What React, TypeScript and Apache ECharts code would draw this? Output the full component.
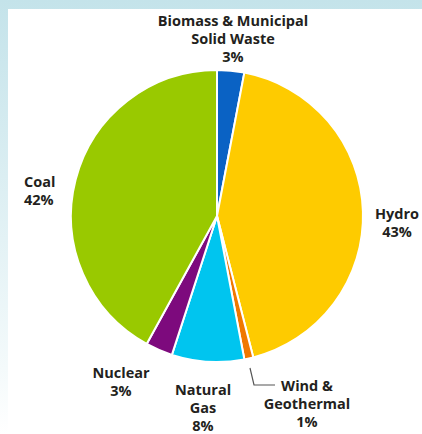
import React, { useEffect, useRef } from "react";
import * as echarts from "echarts";

const categories = [
  "Biomass & Municipal\nSolid Waste",
  "Hydro",
  "Wind &\nGeothermal",
  "Natural\nGas",
  "Nuclear",
  "Coal",
];
const shares = [3, 43, 1, 8, 3, 42];
const colors = ["#0a62c4", "#fecb00", "#f07800", "#00c5ef", "#7d0a7d", "#99c900"];

// label anchor points (page coordinates)
const labelSpots: { x: number; y: number; align: string }[] = [
  { x: 233, y: 38, align: "center" },
  { x: 397, y: 222, align: "center" },
  { x: 307, y: 403, align: "center" },
  { x: 203, y: 407, align: "center" },
  { x: 121, y: 381, align: "center" },
  { x: 24, y: 190, align: "left" },
];

export default function App() {
  const ref = useRef<HTMLDivElement>(null);
  useEffect(() => {
    const chart = echarts.init(ref.current!, null, { renderer: "svg" });
    chart.setOption({
      animation: false,
      series: [
        {
          type: "pie",
          center: [217, 216],
          radius: [0, 146],
          startAngle: 90,
          clockwise: true,
          avoidLabelOverlap: false,
          itemStyle: { borderColor: "#ffffff", borderWidth: 2 },
          label: {
            show: true,
            position: "outside",
            formatter: (p: any) => `${p.name}\n${p.value}%`,
            color: "#231f20",
            fontFamily: "Open Sans",
            fontWeight: "bold",
            fontSize: 14.5,
            lineHeight: 18,
            align: "center",
          },
          labelLine: { show: false },
          labelLayout: (p: any) => {
            const s = labelSpots[p.dataIndex];
            const out: any = { x: s.x, y: s.y, align: s.align, verticalAlign: "middle" };
            if (p.dataIndex === 2) {
              out.labelLinePoints = [
                [250, 368],
                [254, 385],
                [275, 385],
              ];
            }
            return out;
          },
          data: categories.map((name, i) => ({
            name,
            value: shares[i],
            itemStyle: { color: colors[i] },
            labelLine:
              i === 2
                ? { show: true, lineStyle: { color: "#555555", width: 1.2 } }
                : { show: false },
          })),
        },
      ],
    });
    return () => chart.dispose();
  }, []);
  return (
    <div
      style={{
        position: "absolute",
        left: 0,
        top: 0,
        width: 422,
        height: 434,
        background: "linear-gradient(to bottom, #c4e3ea, #f4fafb 85%, #ffffff)",
        overflow: "hidden",
      }}
    >
      <div
        style={{
          position: "absolute",
          left: 8,
          top: 9,
          width: 414,
          height: 425,
          background: "#ffffff",
        }}
      />
      <div ref={ref} style={{ position: "absolute", left: 0, top: 0, width: 422, height: 434 }} />
    </div>
  );
}
